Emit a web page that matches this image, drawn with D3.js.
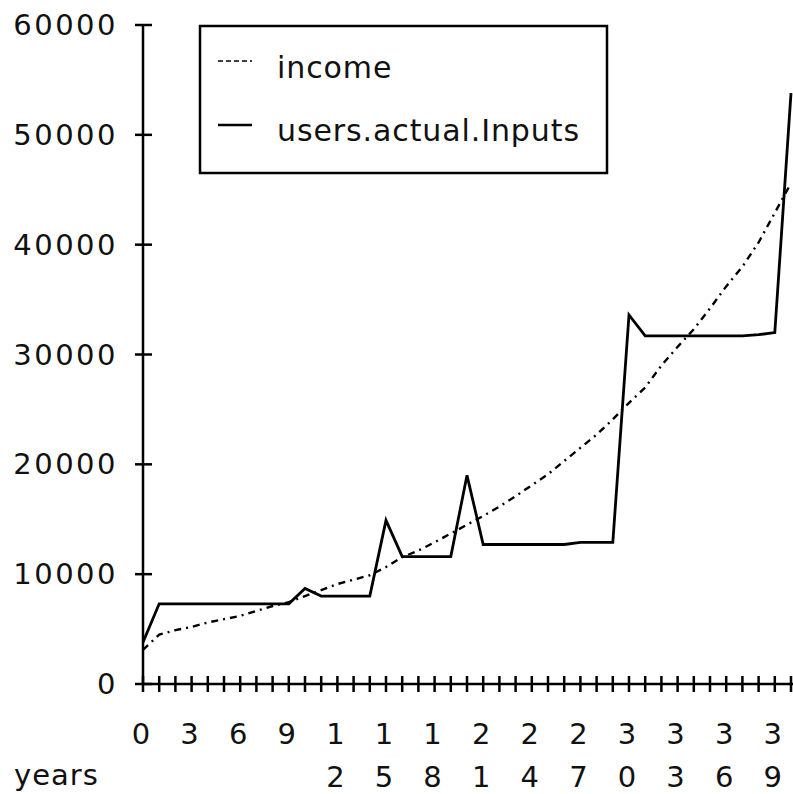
<!DOCTYPE html>
<html>
<head>
<meta charset="utf-8">
<script src="https://cdn.jsdelivr.net/npm/d3@7"></script>
<style>
  html, body { margin: 0; padding: 0; background: #fff; }
  svg { display: block; }
  text { font-family: "DejaVu Sans", sans-serif; fill: #111; }
</style>
</head>
<body>
<svg id="chart" width="793" height="794"></svg>
<script>
// Year index, one point per year
const years = d3.range(0, 41);

// Projected income per year
const income = [
  3100, 4500, 4900, 5200, 5600, 5900, 6200, 6650, 7100, 7450,
  8000, 8550, 9100, 9500, 9900, 10650, 11550, 12150, 12900, 13700,
  14500, 15300, 16150, 17100, 18100, 19100, 20300, 21500, 22700, 24100,
  25600, 27000, 29000, 30700, 32300, 34200, 36200, 38000, 40200, 42900,
  45600
];

// Values entered by the user per year
const actualInputs = [
  3800, 7300, 7300, 7300, 7300, 7300, 7300, 7300, 7300, 7300,
  8700, 8000, 8000, 8000, 8000, 14900, 11600, 11600, 11600, 11600,
  19000, 12700, 12700, 12700, 12700, 12700, 12700, 12900, 12900, 12900,
  33600, 31700, 31700, 31700, 31700, 31700, 31700, 31700, 31800, 32000,
  53800
];

const yTicks = [0, 10000, 20000, 30000, 40000, 50000, 60000];
const xLabelYears = d3.range(0, 40, 3);
const seriesNames = ["income", "users.actual.Inputs"];

const svg = d3.select("#chart");
const x = d3.scaleLinear().domain([0, 40]).range([143, 791]);
const y = d3.scaleLinear().domain([0, 60000]).range([684, 25]);

// Axes
svg.append("line").attr("x1", 143).attr("x2", 793).attr("y1", y(0)).attr("y2", y(0))
  .attr("stroke", "#000").attr("stroke-width", 2.5);
svg.append("line").attr("x1", 143).attr("x2", 143).attr("y1", y(60000)).attr("y2", y(0))
  .attr("stroke", "#000").attr("stroke-width", 2.5);

// Y ticks crossing the axis
svg.selectAll(".ytick").data(yTicks).enter().append("line")
  .attr("x1", 135).attr("x2", 152)
  .attr("y1", d => y(d)).attr("y2", d => y(d))
  .attr("stroke", "#000").attr("stroke-width", 2.5);

svg.selectAll(".ylab").data(yTicks).enter().append("text")
  .attr("x", 118).attr("y", d => y(d) + 10)
  .attr("text-anchor", "end")
  .attr("font-size", 29).attr("letter-spacing", 2.5)
  .text(d => d);

// X ticks, one per year
svg.selectAll(".xtick").data(years).enter().append("line")
  .attr("x1", d => x(d)).attr("x2", d => x(d))
  .attr("y1", y(0) - 8).attr("y2", y(0) + 8)
  .attr("stroke", "#000").attr("stroke-width", 2.5);

// X labels: tens digit on top, units digit below
const xl = svg.selectAll(".xlab").data(xLabelYears).enter().append("text")
  .attr("text-anchor", "middle").attr("font-size", 29);
xl.each(function(d) {
  const t = d3.select(this);
  const s = String(d);
  const cx = x(d) - 2;
  if (s.length === 1) {
    t.append("tspan").attr("x", cx).attr("y", 744).text(s);
  } else {
    t.append("tspan").attr("x", cx).attr("y", 744).text(s[0]);
    t.append("tspan").attr("x", cx).attr("y", 787).text(s[1]);
  }
});

svg.append("text").attr("x", 14).attr("y", 785)
  .attr("font-size", 29).attr("letter-spacing", 1).text("years");

// Series lines
const line = d3.line().x((d, i) => x(years[i])).y(d => y(d));

svg.append("path").datum(income)
  .attr("d", line).attr("fill", "none")
  .attr("stroke", "#000").attr("stroke-width", 2.4)
  .attr("stroke-dasharray", "7,5,2,5");

svg.append("path").datum(actualInputs)
  .attr("d", line).attr("fill", "none")
  .attr("stroke", "#000").attr("stroke-width", 2.8)
  .attr("stroke-linejoin", "miter");

// Legend
const lg = svg.append("g");
lg.append("rect").attr("x", 200).attr("y", 26).attr("width", 407).attr("height", 147)
  .attr("fill", "#fff").attr("stroke", "#000").attr("stroke-width", 2.5);

const legendRows = [
  { name: seriesNames[0], ly: 61, ty: 78, dash: "5,3", w: 1.5 },
  { name: seriesNames[1], ly: 125, ty: 141, dash: null, w: 2.5 }
];
legendRows.forEach(r => {
  const ln = lg.append("line").attr("x1", 218).attr("x2", 252)
    .attr("y1", r.ly).attr("y2", r.ly)
    .attr("stroke", "#000").attr("stroke-width", r.w);
  if (r.dash) ln.attr("stroke-dasharray", r.dash);
  lg.append("text").attr("x", 277).attr("y", r.ty)
    .attr("font-size", 30).attr("letter-spacing", 0.9).text(r.name);
});
</script>
</body>
</html>
